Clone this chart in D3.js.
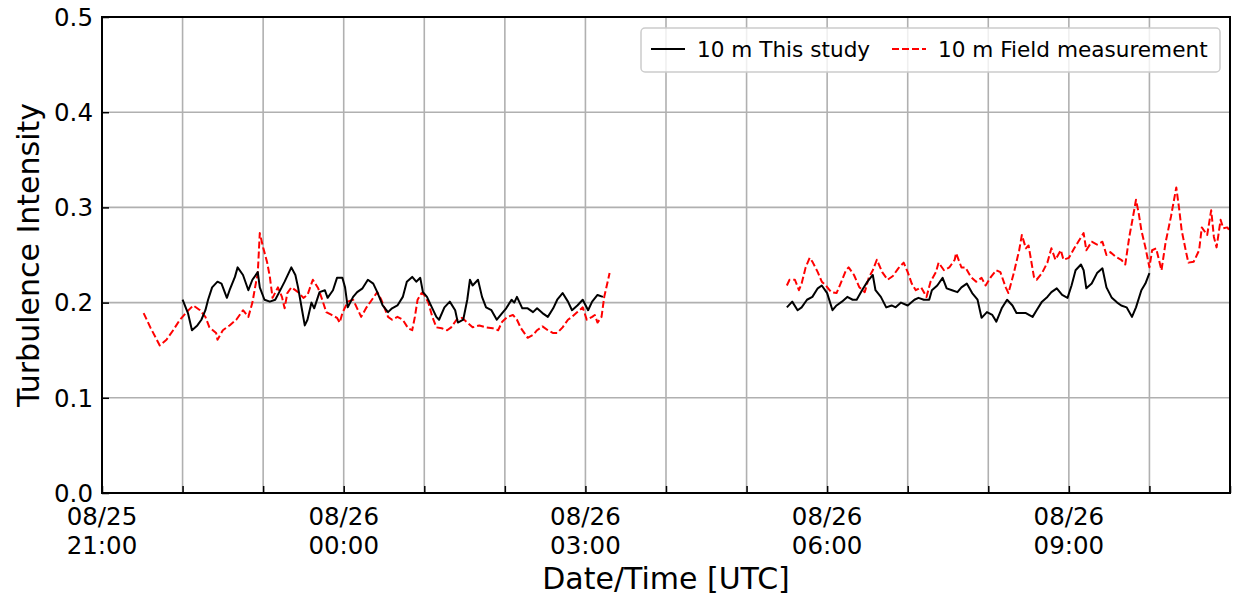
<!DOCTYPE html>
<html>
<head>
<meta charset="utf-8">
<script src="https://cdn.jsdelivr.net/npm/d3@7/dist/d3.min.js"></script>
<style>
  html, body { margin: 0; padding: 0; background: #fff; }
  svg { display: block; font-family: "DejaVu Sans", sans-serif; }
</style>
</head>
<body>
<svg id="chart" width="1235" height="599"></svg>
<script>
// Time is given in minutes after 08/25 21:00 UTC.
// Model ("This study") at 10 m — evening segment
const studyEveningMin = [60,64,67,71,74,77,79,82,86,89,93,95,99,101,105,109,112,116,117.5,121,125,129,132,136,141,144,146,149,151,153,156,158,162,166,168,172,175,179,181,183,187,190,194,198,202,205,209,213,216,220,224,227,231,234,237,239,242,246,249,251,255,259,263,265,269,272,274,276,280,283,286,290,294,298,301,305,307,309,313,317,321,324,328,332,336,339,343,347,350,354,358,362,365,369,373];
const studyEveningTI  = [.203,.189,.171,.176,.182,.192,.203,.216,.222,.220,.205,.213,.227,.237,.229,.213,.224,.232,.216,.203,.201,.203,.211,.222,.237,.229,.216,.192,.176,.182,.200,.194,.211,.213,.205,.213,.226,.226,.216,.195,.206,.211,.215,.224,.220,.211,.197,.190,.194,.197,.206,.222,.227,.222,.226,.211,.206,.194,.185,.182,.195,.201,.192,.179,.182,.203,.224,.218,.224,.206,.195,.192,.182,.189,.194,.203,.200,.206,.194,.194,.190,.194,.189,.185,.194,.203,.210,.201,.192,.197,.203,.192,.201,.208,.206];

// Model ("This study") at 10 m — morning segment
const studyMorningMin = [510,514,518,521,525,529,533,536,540,544,547,551,555,559,562,566,570,574,576,580,584,588,591,595,600,605,608,612,616,618,622,626,629,633,637,640,644,648,652,655,659,663,666,670,674,678,681,685,688,693,696,700,704,707,711,715,719,722,725,729,731,733,737,741,745,748,752,756,759,763,767,770,774,777,780];
const studyMorningTI  = [.195,.201,.192,.195,.203,.206,.215,.218,.210,.192,.197,.201,.206,.203,.203,.213,.222,.229,.213,.206,.195,.197,.195,.200,.197,.203,.205,.203,.203,.213,.218,.226,.215,.213,.211,.216,.220,.210,.203,.184,.190,.187,.180,.194,.203,.197,.189,.189,.189,.185,.192,.201,.206,.211,.215,.208,.205,.218,.234,.240,.234,.215,.220,.231,.236,.216,.205,.200,.197,.195,.185,.195,.213,.220,.231];

// Field measurement at 10 m — evening segment
const fieldEveningMin = [31,36,43,48,53,58,63,68,73,77,80,85,86,90,95,100,105,109,112,114,116,117.5,120,123,125,127,131,134,136,138,141,146,150,153,157,161,164,167,171,175,177,179,183,187,190,193,197,201,205,208,213,216,220,224,228,231,233,235,238,240,243,246,249,253,257,260,264,268,272,276,281,286,291,295,298,302,306,309,312,317,321,324,328,332,336,339,343,347,350,354,358,361,365,367,369,372,374,378];
const fieldEveningTI  = [.189,.174,.155,.161,.171,.182,.190,.197,.192,.185,.174,.168,.161,.171,.176,.182,.192,.185,.200,.216,.231,.273,.258,.242,.227,.205,.216,.206,.194,.210,.216,.211,.205,.208,.224,.215,.203,.190,.187,.184,.179,.189,.201,.203,.194,.185,.195,.203,.211,.203,.185,.182,.185,.182,.173,.171,.185,.203,.210,.208,.200,.185,.174,.173,.171,.174,.182,.184,.179,.174,.176,.174,.173,.171,.180,.185,.187,.182,.173,.163,.166,.171,.175,.171,.168,.168,.174,.182,.185,.190,.195,.182,.185,.187,.179,.185,.206,.231];

// Field measurement at 10 m — morning segment
const fieldMorningMin = [510,512,516,519,521,524,527,529,533,536,539,543,547,550,554,556,560,564,568,571,574,577,581,585,589,593,597,600,603,606,610,614,617,621,623,627,631,635,636,640,643,647,651,655,658,662,666,669,673,675,679,683,685,688,690,694,696,700,704,707,710,714,716,720,724,727,731,733,737,741,745,748,751,755,759,762,765,768,770,772,774,777,780,782,785,789,792,796,800,802,804,807,809,813,817,819,823,826,828,830,833,835,838,840];
const fieldMorningTI  = [.218,.224,.224,.213,.220,.237,.247,.243,.232,.222,.218,.211,.210,.220,.234,.237,.229,.216,.211,.226,.234,.245,.232,.224,.228,.236,.242,.232,.220,.213,.216,.206,.222,.232,.242,.234,.237,.245,.252,.237,.237,.227,.222,.226,.218,.227,.234,.232,.216,.210,.231,.255,.271,.257,.260,.227,.224,.231,.242,.257,.245,.255,.245,.247,.257,.264,.273,.255,.264,.261,.264,.250,.253,.248,.245,.240,.269,.292,.308,.294,.276,.258,.237,.255,.257,.234,.263,.290,.321,.300,.276,.255,.242,.243,.255,.279,.271,.297,.269,.258,.287,.278,.279,.275];

// Axis settings
const xDomainMin = [0, 840];
const xMajorTicks = [0, 180, 360, 540, 720];
const xMajorLabels = [["08/25", "21:00"], ["08/26", "00:00"], ["08/26", "03:00"], ["08/26", "06:00"], ["08/26", "09:00"]];
const xMinorTicks = d3.range(0, 841, 60);
const yTicks = [0, 0.1, 0.2, 0.3, 0.4, 0.5];
const seriesNames = ["10 m This study", "10 m Field measurement"];

const svg = d3.select("#chart");
const plot = { left: 102, right: 1230, top: 17, bottom: 493 };

const x = d3.scaleLinear().domain(xDomainMin).range([plot.left, plot.right]);
const y = d3.scaleLinear().domain([0, 0.5]).range([plot.bottom, plot.top]);

// Grid lines
const grid = svg.append("g").attr("stroke", "#b0b0b0").attr("stroke-width", 1.6);
grid.selectAll("line.gx").data(xMinorTicks.filter(t => t > 0 && t < 840)).join("line")
  .attr("x1", d => x(d)).attr("x2", d => x(d))
  .attr("y1", plot.top).attr("y2", plot.bottom);
grid.selectAll("line.gy").data(yTicks.filter(t => t > 0 && t < 0.5)).join("line")
  .attr("x1", plot.left).attr("x2", plot.right)
  .attr("y1", d => y(d)).attr("y2", d => y(d));

// Series lines
const zip = (ts, vs) => ts.map((t, i) => [t, vs[i]]);
const line = d3.line().x(d => x(d[0])).y(d => y(d[1]));

const clip = svg.append("clipPath").attr("id", "plotclip").append("rect")
  .attr("x", plot.left).attr("y", plot.top)
  .attr("width", plot.right - plot.left).attr("height", plot.bottom - plot.top);

const lines = svg.append("g").attr("clip-path", "url(#plotclip)").attr("fill", "none");
[[fieldEveningMin, fieldEveningTI], [fieldMorningMin, fieldMorningTI]].forEach(([t, v]) => {
  lines.append("path").datum(zip(t, v)).attr("d", line)
    .attr("stroke", "#ff0000").attr("stroke-width", 2).attr("stroke-dasharray", "7,3")
    .attr("stroke-linejoin", "round");
});
[[studyEveningMin, studyEveningTI], [studyMorningMin, studyMorningTI]].forEach(([t, v]) => {
  lines.append("path").datum(zip(t, v)).attr("d", line)
    .attr("stroke", "#000").attr("stroke-width", 2).attr("stroke-linejoin", "round");
});

// Axes with inward ticks
const xAxis = svg.append("g").attr("transform", `translate(0,${plot.bottom})`)
  .call(d3.axisBottom(x).tickValues(xMinorTicks).tickSize(-7).tickFormat(""));
xAxis.select(".domain").remove();
xAxis.selectAll(".tick line").attr("stroke", "#000").attr("stroke-width", 1.5);

const xLabels = svg.append("g").attr("font-size", 24.5).attr("text-anchor", "middle").attr("fill", "#000");
xMajorTicks.forEach((t, i) => {
  const txt = xLabels.append("text").attr("x", x(t)).attr("y", 525);
  txt.append("tspan").attr("x", x(t)).text(xMajorLabels[i][0]);
  txt.append("tspan").attr("x", x(t)).attr("dy", 28.5).text(xMajorLabels[i][1]);
});

const yAxis = svg.append("g").attr("transform", `translate(${plot.left},0)`)
  .call(d3.axisLeft(y).tickValues(yTicks).tickSize(-7).tickPadding(9).tickFormat(d3.format(".1f")));
yAxis.select(".domain").remove();
yAxis.selectAll(".tick line").attr("stroke", "#000").attr("stroke-width", 1.5);
yAxis.selectAll(".tick text").attr("font-size", 24.5).attr("font-family", "DejaVu Sans")
  .attr("fill", "#000").attr("x", -9).attr("dy", "0.34em");

// Frame
svg.append("rect").attr("x", plot.left).attr("y", plot.top)
  .attr("width", plot.right - plot.left).attr("height", plot.bottom - plot.top)
  .attr("fill", "none").attr("stroke", "#000").attr("stroke-width", 2);

// Axis titles
svg.append("text").attr("x", (plot.left + plot.right) / 2).attr("y", 589)
  .attr("text-anchor", "middle").attr("font-size", 30).text("Date/Time [UTC]");
svg.append("text").attr("transform", `translate(39,${(plot.top + plot.bottom) / 2}) rotate(-90)`)
  .attr("text-anchor", "middle").attr("font-size", 30).text("Turbulence Intensity");

// Legend
const legend = svg.append("g");
legend.append("rect").attr("x", 641).attr("y", 28).attr("width", 579).attr("height", 44)
  .attr("rx", 4).attr("fill", "#fff").attr("fill-opacity", 0.8)
  .attr("stroke", "#cccccc").attr("stroke-width", 1.5);
legend.append("line").attr("x1", 651).attr("x2", 685).attr("y1", 49).attr("y2", 49)
  .attr("stroke", "#000").attr("stroke-width", 2);
legend.append("text").attr("x", 697).attr("y", 57).attr("font-size", 21.6).text(seriesNames[0]);
legend.append("line").attr("x1", 892).attr("x2", 926).attr("y1", 49).attr("y2", 49)
  .attr("stroke", "#ff0000").attr("stroke-width", 2).attr("stroke-dasharray", "7,3");
legend.append("text").attr("x", 938).attr("y", 57).attr("font-size", 21.6).text(seriesNames[1]);
</script>
</body>
</html>
